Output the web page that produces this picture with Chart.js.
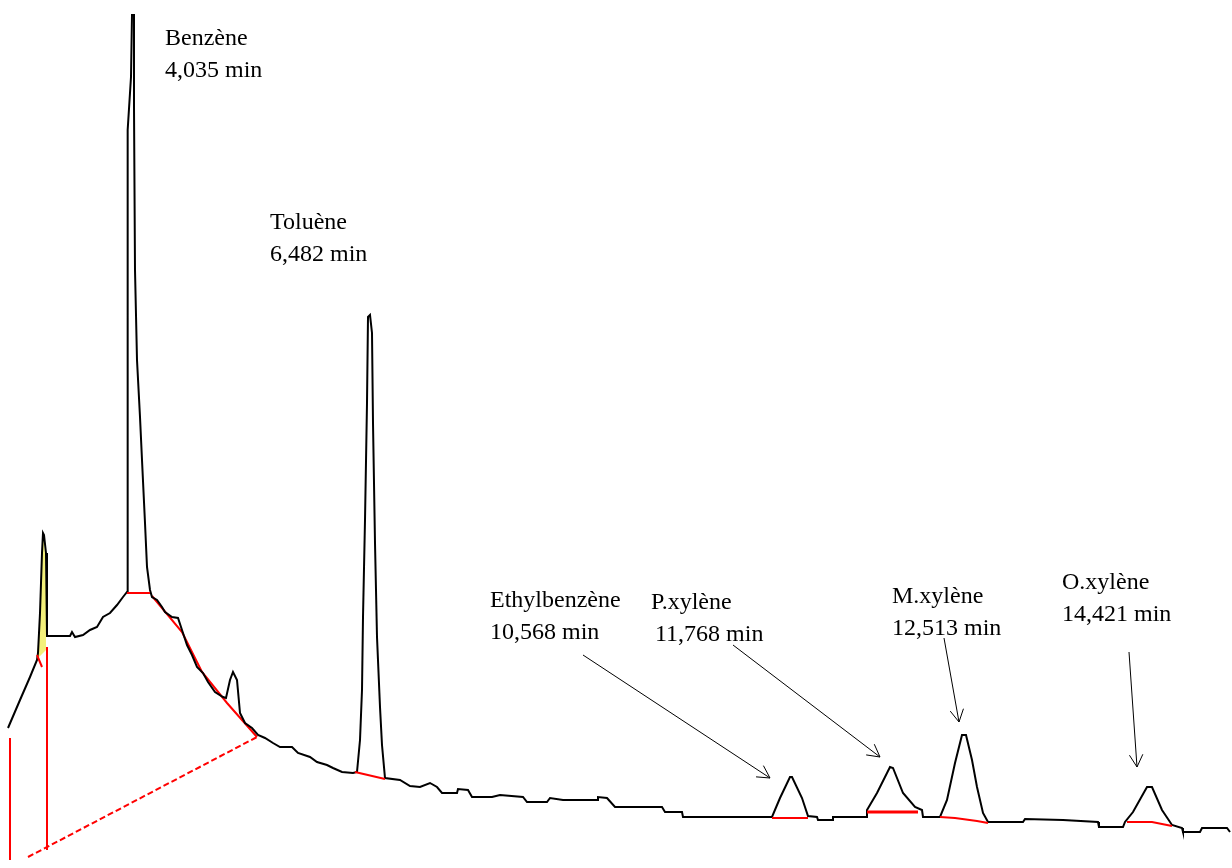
<!DOCTYPE html>
<html lang="fr">
<head>
  <meta charset="UTF-8" />
  <title>Chromatogramme BTEX</title>
  <script src="https://cdn.jsdelivr.net/npm/chart.js"></script>
  <style>
    html, body { margin: 0; padding: 0; background: #fff; }
    #wrap { position: relative; width: 1232px; height: 868px; }
  </style>
</head>
<body>
  <div id="wrap"><canvas id="chrom"></canvas></div>
  <script>
    // retention time (min) and detector signal (arb. units)
    const traceTime = [
      2.78, 2.90, 3.00, 3.07, 3.08, 3.10, 3.12, 3.13, 3.14, 3.16, 3.17, 3.17, 3.18, 3.40, 3.42, 3.45,
      3.53, 3.60, 3.67, 3.73, 3.80, 3.87, 3.93, 3.97, 3.97, 3.98, 3.98, 4.01, 4.02, 4.04, 4.04, 4.05,
      4.07, 4.10, 4.12, 4.15, 4.17, 4.20, 4.22, 4.27, 4.32, 4.35, 4.42, 4.48, 4.52, 4.57, 4.62, 4.67,
      4.73, 4.78, 4.85, 4.93, 4.96, 5.00, 5.03, 5.07, 5.10, 5.15, 5.22, 5.28, 5.35, 5.43, 5.50, 5.62,
      5.68, 5.80, 5.87, 5.97, 6.03, 6.12, 6.23, 6.27, 6.30, 6.32, 6.33, 6.35, 6.37, 6.38, 6.40, 6.42,
      6.43, 6.45, 6.47, 6.50, 6.52, 6.55, 6.70, 6.80, 6.90, 7.00, 7.07, 7.12, 7.27, 7.28, 7.38, 7.42,
      7.62, 7.70, 7.93, 7.97, 8.17, 8.20, 8.33, 8.67, 8.68, 8.77, 8.85, 9.32, 9.35, 9.52, 9.53, 10.42,
      10.50, 10.60, 10.62, 10.72, 10.78, 10.87, 10.88, 11.02, 11.03, 11.37, 11.37, 11.47, 11.60, 11.63, 11.73, 11.85,
      11.92, 11.93, 12.10, 12.17, 12.25, 12.32, 12.36, 12.42, 12.47, 12.53, 12.58, 12.93, 12.95, 13.33, 13.68, 13.69,
      13.93, 13.95, 14.03, 14.17, 14.22, 14.32, 14.42, 14.52, 14.53, 14.70, 14.72, 14.97, 15.00
    ];
    const traceSignal = [
      14.0, 16.8, 19.1, 20.8, 21.5, 25.5, 31.5, 33.5, 33.3, 31.5, 28.1, 23.2, 23.2, 23.2, 23.6, 23.1,
      23.3, 23.8, 24.1, 25.1, 25.5, 26.3, 27.1, 27.6, 58.8, 59.8, 73.8, 79.1, 85.3, 85.3, 76.1, 59.8,
      50.8, 45.1, 40.8, 34.5, 30.1, 27.8, 27.1, 26.8, 26.1, 25.6, 25.1, 25.0, 23.8, 22.3, 21.3, 20.1,
      19.5, 18.6, 17.6, 17.1, 17.0, 18.8, 19.6, 18.8, 15.5, 14.5, 14.0, 13.3, 13.0, 12.5, 12.1, 12.1,
      11.5, 11.1, 10.6, 10.3, 10.0, 9.6, 9.5, 9.6, 12.8, 17.8, 25.1, 34.8, 46.5, 55.1, 55.3, 53.5,
      44.5, 32.5, 23.1, 16.1, 12.3, 9.0, 8.8, 8.2, 8.1, 8.5, 8.1, 7.5, 7.5, 7.9, 7.8, 7.1,
      7.1, 7.3, 7.1, 6.6, 6.6, 7.0, 6.8, 6.8, 7.1, 7.0, 6.1, 6.1, 5.6, 5.6, 5.1, 5.1,
      7.0, 9.1, 9.1, 7.0, 5.2, 5.1, 4.8, 4.8, 5.1, 5.1, 5.8, 7.5, 10.1, 10.0, 7.5, 6.1,
      5.8, 5.1, 5.1, 6.8, 10.5, 13.3, 13.3, 10.8, 8.1, 5.5, 4.6, 4.6, 4.9, 4.8, 4.6, 4.1,
      4.1, 4.6, 5.6, 8.1, 8.1, 5.8, 4.3, 4.0, 3.6, 3.6, 4.0, 4.0, 3.6
    ];

    // small integrated peak (yellow area)
    const areaTime = [3.07, 3.10, 3.12, 3.13, 3.15, 3.16, 3.16, 3.07];
    const areaSignal = [20.9, 25.5, 31.5, 33.3, 31.5, 28.1, 21.8, 20.9];

    // integration baselines (red)
    const baseTimes = [
      [2.80, 2.80], [3.17, 3.17], [2.98, 5.27], [3.07, 3.12], [3.97, 4.20],
      [4.22, 4.52, 4.72, 4.97, 5.27], [6.25, 6.55], [10.42, 10.78], [11.37, 11.88],
      [12.10, 12.25, 12.47, 12.58], [13.97, 14.22, 14.42]
    ];
    const baseSignals = [
      [13.0, 0.8], [22.1, 1.8], [1.1, 13.1], [21.3, 20.1], [27.5, 27.5],
      [27.2, 23.6, 19.6, 16.5, 13.1], [9.6, 8.9], [5.0, 5.0], [5.6, 5.6],
      [5.1, 5.0, 4.7, 4.5], [4.6, 4.6, 4.2]
    ];

    // peak labels
    const peakNames = ['Benzène', 'Toluène', 'Ethylbenzène', 'P.xylène', 'M.xylène', 'O.xylène'];
    const peakTimesText = ['4,035 min', '6,482 min', '10,568 min', '11,768 min', '12,513 min', '14,421 min'];
    const labelTime = [4.35, 5.40, 7.60, 9.21, 11.62, 13.32];
    const labelSignal = [82.3, 63.9, 26.1, 25.9, 26.5, 27.9];

    // annotation arrows: tail -> head
    const arrowFromTime = [8.53, 10.03, 12.14, 13.99];
    const arrowFromSignal = [21.3, 22.3, 23.0, 21.6];
    const arrowToTime = [10.40, 11.50, 12.29, 14.07];
    const arrowToSignal = [9.0, 11.1, 14.6, 10.1];

    const zip = (xs, ys) => xs.map((x, i) => ({ x: x, y: ys[i] }));

    const datasets = [];
    datasets.push({
      data: zip(areaTime, areaSignal), borderWidth: 0, borderColor: 'rgba(0,0,0,0)',
      backgroundColor: '#f3f07a', fill: 'shape', order: 5
    });
    datasets.push({
      data: zip(traceTime, traceSignal), borderColor: '#000', borderWidth: 2, fill: false, order: 2
    });
    baseTimes.forEach((ts, i) => {
      datasets.push({
        data: zip(ts, baseSignals[i]), borderColor: '#ff0000',
        borderWidth: i === 8 ? 3 : 2, borderDash: i === 2 ? [6, 3] : [], fill: false,
        order: i === 5 ? 4 : 1
      });
    });
    arrowFromTime.forEach((t, i) => {
      datasets.push({
        data: [{ x: t, y: arrowFromSignal[i] }, { x: arrowToTime[i], y: arrowToSignal[i] }],
        borderColor: '#000', borderWidth: 1, fill: false, order: 3
      });
    });

    const annotations = {
      id: 'annotations',
      afterDatasetsDraw(chart) {
        const ctx = chart.ctx, xs = chart.scales.x, ys = chart.scales.y;
        ctx.save();
        // arrowheads
        ctx.strokeStyle = '#000';
        ctx.lineWidth = 1;
        arrowToTime.forEach((t, i) => {
          const x1 = xs.getPixelForValue(arrowFromTime[i]), y1 = ys.getPixelForValue(arrowFromSignal[i]);
          const x2 = xs.getPixelForValue(t), y2 = ys.getPixelForValue(arrowToSignal[i]);
          const a = Math.atan2(y2 - y1, x2 - x1);
          ctx.beginPath();
          [-0.5, 0.5].forEach(d => {
            ctx.moveTo(x2, y2);
            ctx.lineTo(x2 - 14 * Math.cos(a + d), y2 - 14 * Math.sin(a + d));
          });
          ctx.stroke();
        });
        // labels
        ctx.fillStyle = '#000';
        ctx.font = '24px "Liberation Serif", "DejaVu Serif", serif';
        ctx.textBaseline = 'alphabetic';
        peakNames.forEach((name, i) => {
          const x = xs.getPixelForValue(labelTime[i]), y = ys.getPixelForValue(labelSignal[i]);
          ctx.fillText(name, x, y);
          ctx.fillText(peakTimesText[i], x + (i === 3 ? 4 : 0), y + 32);
        });
        ctx.restore();
      }
    };

    new Chart(document.getElementById('chrom'), {
      type: 'line',
      data: { datasets: datasets },
      options: {
        responsive: true,
        maintainAspectRatio: false,
        animation: false,
        layout: { padding: 0 },
        elements: { point: { radius: 0 }, line: { tension: 0, borderJoinStyle: 'miter' } },
        scales: {
          x: { type: 'linear', min: 2.70, max: 15.02, display: false },
          y: { type: 'linear', min: 0, max: 86.8, display: false }
        },
        plugins: { legend: { display: false }, tooltip: { enabled: false } }
      },
      plugins: [annotations]
    });
  </script>
</body>
</html>
